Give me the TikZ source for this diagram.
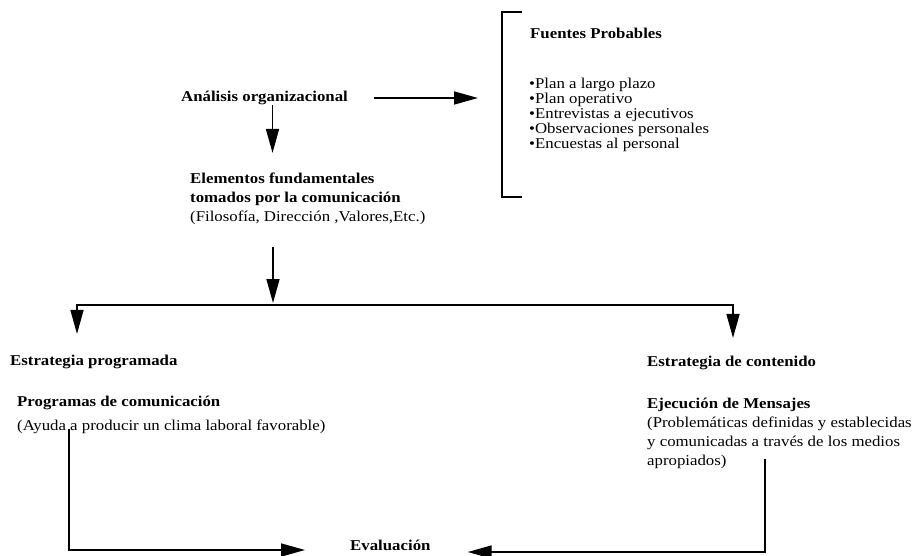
\documentclass[tikz,border=0pt]{standalone}
\usepackage{fontspec}
\setmainfont{Liberation Serif}[FakeStretch=1.12]
\usepackage{tikz}
\usetikzlibrary{arrows.meta}
\tikzstyle{titulo} = [font=\fontsize{15}{19}\selectfont\bfseries, inner sep=0pt, anchor=west]
\tikzstyle{texto} = [inner sep=0pt, anchor=west, align=left]
\tikzstyle{linea} = [line width=1.6pt]
\tikzstyle{flecha} = [line width=1.6pt, -{Triangle[length=24pt,width=13pt]}]
\tikzstyle{corchete} = [line width=1.2pt]

\begin{document}
\begin{tikzpicture}[x=1pt, y=-1pt, font=\fontsize{15}{19}\selectfont]
\useasboundingbox (0,0) rectangle (918,555);
\node[titulo] (ana) at (181,98) {Análisis organizacional};
\node[titulo] (fuentes) at (530,33) {Fuentes Probables};
\node[texto, font=\fontsize{15}{15}\selectfont] (lista) at (529,115) {%
    •Plan a largo plazo\\
    •Plan operativo\\
    •Entrevistas a ejecutivos\\
    •Observaciones personales\\
    •Encuestas al personal};
\draw[corchete] (522,12) -- (502,12) -- (502,197) -- (522,197);
\coordinate (brk) at (502,98);
\draw[flecha, shorten <=26pt, shorten >=24pt] (ana.east) -- (brk);

\node[texto] (elem) at (190,199) {%
    \textbf{Elementos fundamentales}\\
    \textbf{tomados por la comunicación}\\
    (Filosofía, Dirección ,Valores,Etc.)};
\draw[flecha, shorten >=20pt] ([xshift=8pt]ana.south) -- ([xshift=8pt]ana.south |- elem.north);

\coordinate (split) at (273,305);
\draw[flecha, shorten <=22pt, shorten >=2pt] (split |- elem.south) -- (split);

\node[titulo] (prog) at (10,362) {Estrategia programada};
\node[titulo] (cont) at (647,363) {Estrategia de contenido};
\draw[flecha, shorten >=21pt] (split) -| ([xshift=67pt]prog.north west);
\draw[flecha, shorten >=18pt] (split) -| ([xshift=86pt]cont.north west);

\node[texto, font=\fontsize{15}{24}\selectfont] (progtxt) at (17,415) {%
    \textbf{Programas de comunicación}\\
    (Ayuda a producir un clima laboral favorable)};
\node[texto] (ejec) at (647,433) {%
    \textbf{Ejecución de Mensajes}\\
    (Problemáticas definidas y establecidas\\
    y comunicadas a través de los medios\\
    apropiados)};

\node[titulo] (eval) at (350,545) {Evaluación};
\draw[flecha, shorten >=45pt] ([xshift=52pt,yshift=5pt]progtxt.south west) |- ([yshift=-5pt]eval.west);
\draw[flecha, shorten >=37pt] ([xshift=118pt,yshift=10pt]ejec.south west) |- ([yshift=-7pt]eval.east);
\end{tikzpicture}
\end{document}
